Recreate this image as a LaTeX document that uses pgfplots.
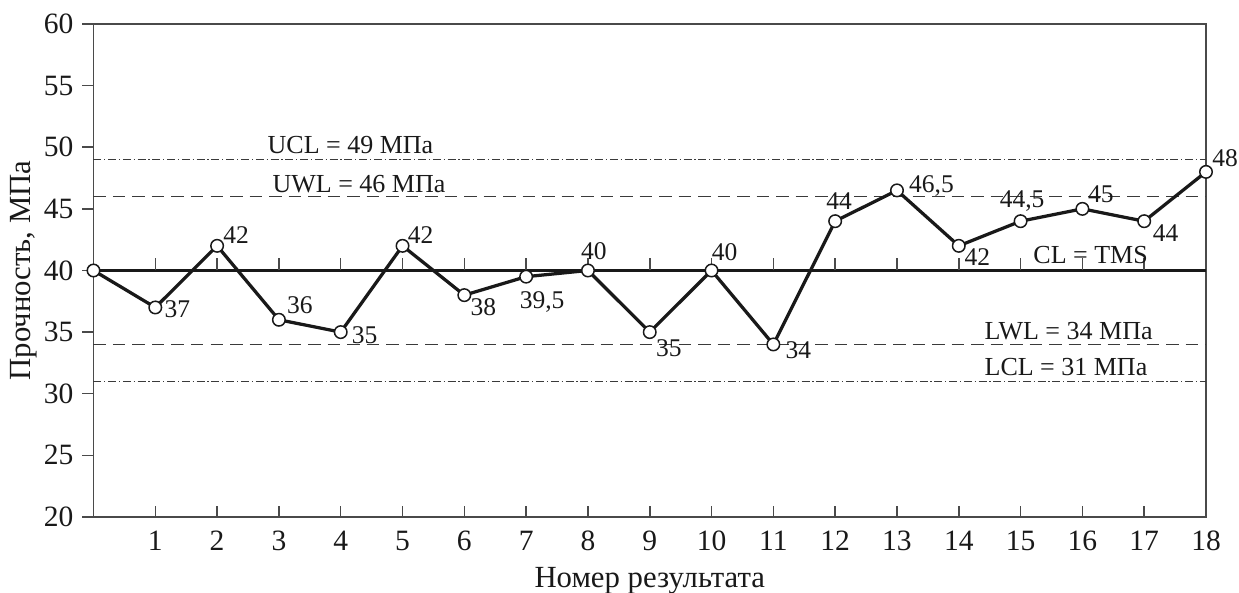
\documentclass[border=0pt]{standalone}
\usepackage{fontspec}
\setmainfont{Liberation Serif}
\usepackage{pgfplots}
\pgfplotsset{compat=1.18}
\definecolor{axgray}{HTML}{4A4A4A}
\definecolor{lngray}{HTML}{3A3A3A}
\begin{document}
\begin{tikzpicture}
\begin{axis}[
  name=ax,
  scale only axis, width=445pt, height=197.2pt,
  xmin=0, xmax=18, ymin=20, ymax=60,
  xtick={1,...,18}, ytick={20,25,...,60},
  xtick pos=lower, ytick pos=left,
  xtick align=inside, ytick align=outside,
  major tick length=4.5pt,
  axis line style={draw=axgray, line width=0.6pt},
  tick style={draw=axgray, line width=0.6pt},
  ticklabel style={font=\fontsize{11.8}{13}\selectfont, text=black!90},
  xticklabel style={yshift=-2pt},
  /pgf/number format/assume math mode=true,
  clip=false,
  xlabel={Номер результата},
  ylabel={Прочность, МПа},
  label style={font=\fontsize{12.3}{14}\selectfont, text=black!90},
  xlabel style={at={(axis description cs:0.5,0)}, anchor=base, yshift=-28.4pt},
  ylabel style={at={(axis description cs:-0.0625,0.5)}, anchor=center},
]
% control limits
\addplot[lngray, line width=0.5pt, dash pattern=on 3.2pt off 1.1pt on 0.5pt off 1.1pt] coordinates {(0,49) (18,49)};
\addplot[lngray, line width=0.5pt, dash pattern=on 3.2pt off 1.1pt on 0.5pt off 1.1pt] coordinates {(0,31) (18,31)};
% warning limits
\addplot[lngray, line width=0.55pt, dash pattern=on 5pt off 2.8pt] coordinates {(0,46) (18,46)};
\addplot[lngray, line width=0.55pt, dash pattern=on 5pt off 2.8pt] coordinates {(0,34) (18,34)};
% centre line
\addplot[black!90, line width=1.2pt] coordinates {(0,40) (18,40)};
% ticks on the centre line
\addplot[draw=none, mark=none, error bars/.cd, y dir=plus, y explicit, error mark=none,
  error bar style={draw=axgray, line width=0.6pt}] coordinates {
  (1,40) +- (0,1.05) (2,40) +- (0,1.05) (3,40) +- (0,1.05) (4,40) +- (0,1.05)
  (5,40) +- (0,1.05) (6,40) +- (0,1.05) (7,40) +- (0,1.05) (8,40) +- (0,1.05)
  (9,40) +- (0,1.05) (10,40) +- (0,1.05) (11,40) +- (0,1.05) (12,40) +- (0,1.05)
  (13,40) +- (0,1.05) (14,40) +- (0,1.05) (15,40) +- (0,1.05) (16,40) +- (0,1.05)
  (17,40) +- (0,1.05)};
% data
\addplot[black!90, line width=1.3pt, mark=*, mark size=2.5pt,
  mark options={fill=white, draw=black!90, line width=0.6pt}] coordinates {
  (0,40) (1,37) (2,42) (3,36) (4,35) (5,42) (6,38) (7,39.5) (8,40) (9,35)
  (10,40) (11,34) (12,44) (13,46.5) (14,42) (15,44) (16,45) (17,44) (18,48)};
% data labels
\begin{scope}[every node/.style={font=\fontsize{10.2}{12}\selectfont, text=black!90, inner sep=0pt, anchor=center}]
\node[xshift=8.8pt,yshift=-0.8pt] at (axis cs:1,37) {37};
\node[xshift=7.6pt,yshift=4.4pt] at (axis cs:2,42) {42};
\node[xshift=8.4pt,yshift=6.0pt] at (axis cs:3,36) {36};
\node[xshift=9.6pt,yshift=-1.2pt] at (axis cs:4,35) {35};
\node[xshift=7.2pt,yshift=4.4pt] at (axis cs:5,42) {42};
\node[xshift=7.6pt,yshift=-4.8pt] at (axis cs:6,38) {38};
\node[xshift=6.4pt,yshift=-10pt] at (axis cs:7,39.5) {39,5};
\node[xshift=2.4pt,yshift=7.6pt] at (axis cs:8,40) {40};
\node[xshift=7.6pt,yshift=-6.4pt] at (axis cs:9,35) {35};
\node[xshift=5.2pt,yshift=7.4pt] at (axis cs:10,40) {40};
\node[xshift=10pt,yshift=-2.4pt] at (axis cs:11,34) {34};
\node[xshift=1.6pt,yshift=8.2pt] at (axis cs:12,44) {44};
\node[xshift=13.8pt,yshift=1.8pt] at (axis cs:13,46.5) {46,5};
\node[xshift=7.4pt,yshift=-4.6pt] at (axis cs:14,42) {42};
\node[xshift=0.6pt,yshift=8.2pt] at (axis cs:15,44) {44,5};
\node[xshift=7.4pt,yshift=5.8pt] at (axis cs:16,45) {45};
\node[xshift=8.6pt,yshift=-4.6pt] at (axis cs:17,44) {44};
\node[xshift=7.6pt,yshift=5.6pt] at (axis cs:18,48) {48};
\end{scope}
% line annotations
\begin{scope}[every node/.style={font=\fontsize{10.4}{12}\selectfont, text=black!90, inner sep=0pt, anchor=base west}]
\node at (axis cs:2.81,49.5) {UCL = 49 МПа};
\node at (axis cs:2.89,46.36) {UWL = 46 МПа};
\node at (axis cs:15.2,40.6) {CL = TMS};
\node at (axis cs:14.41,34.4) {LWL = 34 МПа};
\node at (axis cs:14.41,31.52) {LCL = 31 МПа};
\end{scope}
\end{axis}
\pgfresetboundingbox
\path[use as bounding box] ([shift={(-37.4pt,-30.4pt)}]ax.south west) rectangle ([shift={(458.2pt,206.8pt)}]ax.south west);
\end{tikzpicture}
\end{document}
